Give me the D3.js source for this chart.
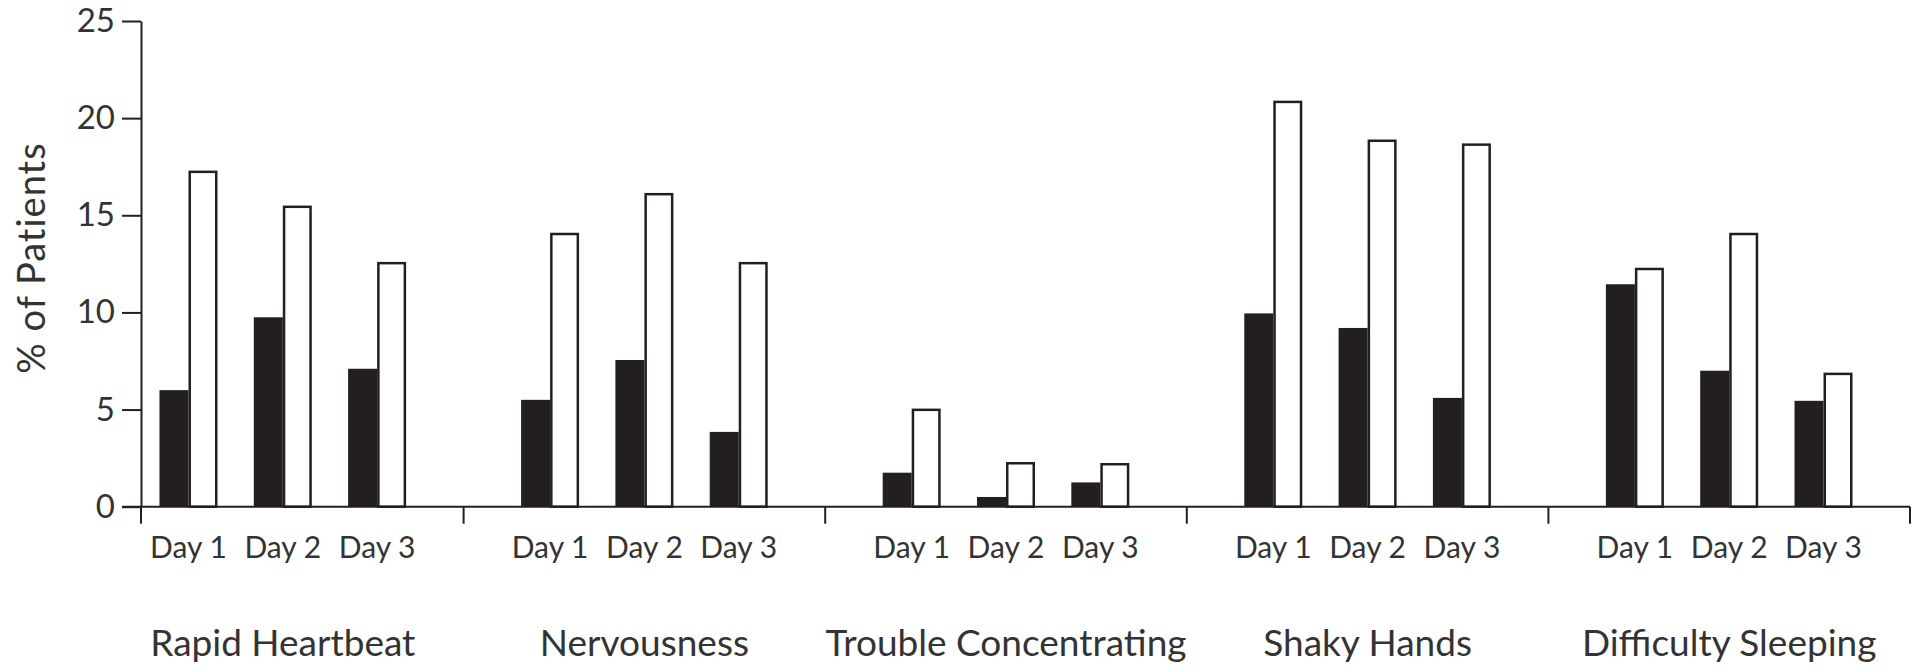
<!DOCTYPE html>
<html>
<head>
<meta charset="utf-8">
<script src="https://cdn.jsdelivr.net/npm/d3@7"></script>
<style>
  body { margin: 0; background: #fff; }
  svg { display: block; }
  text { font-family: Lato, "Noto Sans", sans-serif; font-weight: 400; fill: #333; }
</style>
</head>
<body>
<svg id="chart" width="1921" height="671"></svg>
<script>
// symptom groups along the bottom
var groups = ["Rapid Heartbeat", "Nervousness", "Trouble Concentrating", "Shaky Hands", "Difficulty Sleeping"];
var days = ["Day 1", "Day 2", "Day 3"];
var yTicks = [0, 5, 10, 15, 20, 25];

// % of patients, one row per group, one value per day
var darkVals  = [[6.0, 9.75, 7.1], [5.5, 7.55, 3.85], [1.75, 0.5, 1.25], [9.95, 9.2, 5.6], [11.45, 7.0, 5.45]];
var lightVals = [[17.3, 15.5, 12.6], [14.1, 16.15, 12.6], [5.05, 2.3, 2.25], [20.9, 18.9, 18.7], [12.3, 14.1, 6.9]];

var ink = "#231f20";
var axisX = 141;
var barW = 29;

var svg = d3.select("#chart");

var x0 = d3.scaleBand().domain(groups).range([102, 1910]);
var x1 = d3.scalePoint().domain(days).range([0, x0.bandwidth()]).padding(0.917);
var y = d3.scaleLinear().domain([0, 25]).range([506.7, 21]);

// build flat rows for the bars
var rows = [];
groups.forEach(function(g, gi){
	days.forEach(function(d, di){
		rows.push({group: g, day: d, dark: darkVals[gi][di], light: lightVals[gi][di]});
	});
});
function cx(r){ return x0(r.group) + x1(r.day); }

// bars
var bars = svg.append("g").attr("class", "bars");
bars.selectAll(".dark").data(rows).enter().append("rect")
	.attr("class", "dark")
	.attr("x", function(r){ return cx(r) - barW; })
	.attr("y", function(r){ return y(r.dark); })
	.attr("width", barW)
	.attr("height", function(r){ return y(0) - y(r.dark); })
	.attr("fill", ink);

bars.selectAll(".light").data(rows).enter().append("rect")
	.attr("class", "light")
	.attr("x", function(r){ return cx(r) + 1.25; })
	.attr("y", function(r){ return y(r.light) + 1.25; })
	.attr("width", barW - 2.5)
	.attr("height", function(r){ return y(0) - y(r.light) - 1.25; })
	.attr("fill", "#fff")
	.attr("stroke", ink)
	.attr("stroke-width", 2.5);

// y axis
var yAxis = svg.append("g")
	.attr("transform", "translate(" + axisX + ",0)")
	.call(d3.axisLeft(y).tickValues(yTicks).tickSize(19).tickSizeOuter(0).tickPadding(7));
yAxis.select(".domain").attr("stroke", ink).attr("stroke-width", 2);
yAxis.selectAll(".tick line").attr("stroke", ink).attr("stroke-width", 2);
yAxis.selectAll(".tick text")
	.attr("font-size", 33)
	.attr("font-family", "Lato, sans-serif")
	.attr("font-weight", 300)
	.attr("fill", "#222");

// x baseline and group separators
var bounds = [axisX].concat(groups.map(function(g){ return x0(g) + x0.step(); }));
svg.append("line")
	.attr("x1", axisX - 19).attr("x2", bounds[bounds.length - 1])
	.attr("y1", y(0)).attr("y2", y(0))
	.attr("stroke", ink).attr("stroke-width", 2);
svg.selectAll(".sep").data(bounds).enter().append("line")
	.attr("class", "sep")
	.attr("x1", function(b){ return b; }).attr("x2", function(b){ return b; })
	.attr("y1", y(0)).attr("y2", y(0) + 17)
	.attr("stroke", ink).attr("stroke-width", 2);

// day labels
svg.selectAll(".dayLabel").data(rows).enter().append("text")
	.attr("class", "dayLabel")
	.attr("x", cx)
	.attr("y", 558)
	.attr("text-anchor", "middle")
	.attr("font-size", 30)
	.text(function(r){ return r.day; });

// group labels
svg.selectAll(".groupLabel").data(groups).enter().append("text")
	.attr("class", "groupLabel")
	.attr("x", function(g){ return x0(g) + x0.bandwidth() / 2; })
	.attr("y", 656)
	.attr("text-anchor", "middle")
	.attr("font-size", 37)
	.text(function(g){ return g; });

// y title
svg.append("text")
	.attr("transform", "translate(45,258) rotate(-90)")
	.attr("text-anchor", "middle")
	.attr("font-size", 38)
	.attr("font-weight", 300)
	.attr("fill", "#222")
	.attr("letter-spacing", 1)
	.text("% of Patients");
</script>
</body>
</html>
